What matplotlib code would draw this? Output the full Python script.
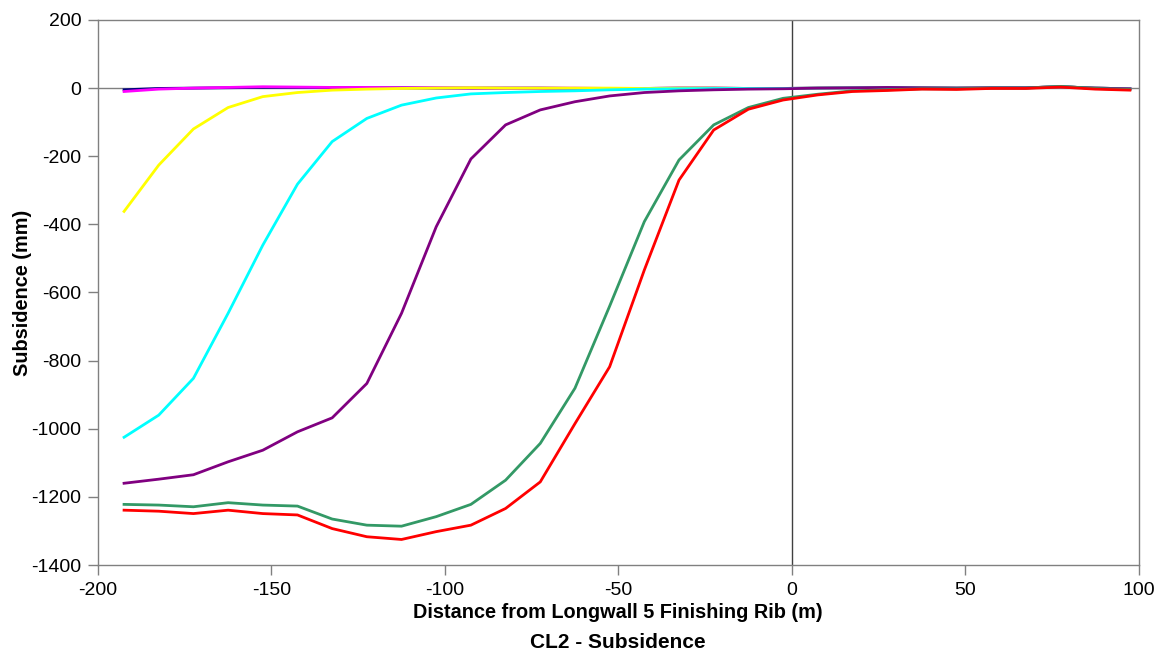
import numpy as np
import matplotlib
matplotlib.use('Agg')
import matplotlib.pyplot as plt

plt.rcParams['font.family'] = ['Liberation Sans', 'DejaVu Sans']
plt.rcParams['axes.unicode_minus'] = False

# Distance from finishing rib (m), one survey peg every 10 m
distance = [-192.5, -182.5, -172.5, -162.5, -152.5, -142.5, -132.5, -122.5, -112.5, -102.5,
            -92.5, -82.5, -72.5, -62.5, -52.5, -42.5, -32.5, -22.5, -12.5, -2.5,
            7.5, 17.5, 27.5, 37.5, 47.5, 57.5, 67.5, 77.5, 87.5, 97.5]

# Subsidence (mm) for each survey
navy = [-5, -1, 0, 1, 2, 2, 2, 1, 1, 0,
        0, 0, 0, -1, -1, -1, 0, 0, -1, -1,
        0, 1, 2, 1, 0, 1, 1, 4, 0, -2]
magenta = [-10, -3, 0, 2, 4, 3, 2, 2, 1, 1,
           0, 0, 0, 0, -1, -1, 0, 0, -1, -1,
           0, 1, 2, 1, 0, 1, 1, 4, 0, -2]
yellow = [-362, -226, -120, -57, -25, -13, -6, -3, -1, 0,
          1, 0, 0, 0, 0, -1, 0, 0, -1, -1,
          0, 1, 2, 1, 0, 1, 1, 4, 0, -2]
cyan = [-1025, -960, -852, -661, -461, -282, -157, -89, -50, -29,
        -17, -13, -10, -8, -5, -3, -2, -1, -1, -1,
        0, 1, 2, 1, 0, 1, 1, 4, 0, -2]
purple = [-1160, -1148, -1135, -1097, -1063, -1009, -968, -867, -661, -407,
          -208, -108, -64, -40, -23, -13, -8, -5, -3, -2,
          0, 1, 2, 1, 0, 1, 1, 4, 0, -2]
green = [-1222, -1224, -1229, -1217, -1224, -1227, -1265, -1283, -1286, -1258,
         -1222, -1151, -1043, -881, -640, -392, -211, -108, -57, -30,
         -18, -8, -5, -2, -2, 0, 0, 5, -1, -4]
red = [-1239, -1242, -1249, -1239, -1249, -1253, -1293, -1317, -1325, -1302,
       -1283, -1234, -1156, -985, -818, -534, -270, -123, -62, -35,
       -20, -10, -7, -3, -4, -1, -1, 3, -3, -6]

series = [navy, magenta, yellow, cyan, purple, green, red]
colors = ['#000080', '#FF00FF', '#FFFF00', '#00FFFF', '#800080', '#339966', '#FF0000']

fig = plt.figure(figsize=(11.63, 6.57), dpi=100)
ax = fig.add_axes([0.0843, 0.140, 0.8947, 0.8296])

ax.axhline(0, color='#808080', lw=1, zorder=1)
ax.axvline(0, color='#404040', lw=1, zorder=1)

for vals, c in zip(series, colors):
    ax.plot(distance, vals, color=c, lw=2, zorder=2)

ax.set_xlim(-200, 100)
ax.set_ylim(-1400, 200)
ax.set_xticks(np.arange(-200, 101, 50))
ax.set_yticks(np.arange(-1400, 201, 200))

for s in ax.spines.values():
    s.set_color('#808080')
    s.set_linewidth(1)
ax.tick_params(direction='out', length=7, width=1, color='#808080', labelsize=14, pad=5)

ax.set_xlabel('Distance from Longwall 5 Finishing Rib (m)', fontsize=14.3, fontweight='bold')
ax.xaxis.set_label_coords(0.5, -0.088)
ax.xaxis.label.set_va('center')
ax.set_ylabel('Subsidence (mm)', fontsize=14.3, fontweight='bold')
ax.yaxis.set_label_coords(-0.073, 0.5)
ax.yaxis.label.set_va('center')
fig.text(0.0843 + 0.8947 / 2, 1 - 642 / 657, 'CL2 - Subsidence', ha='center', va='center',
         fontsize=15, fontweight='bold')

fig.savefig('out.png', dpi=100)
